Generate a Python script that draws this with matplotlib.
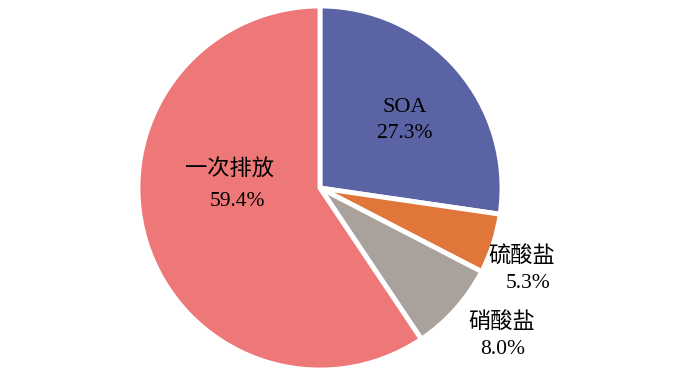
import matplotlib.pyplot as plt

plt.rcParams['font.family'] = ['Liberation Serif', 'Noto Sans CJK SC']

# 数据
labels = ["SOA", "硫酸盐", "硝酸盐", "一次排放"]
values = [27.3, 5.3, 8.0, 59.4]
colors = ["#5A63A3", "#E0763A", "#A9A19B", "#EE7777"]
explode = [0.01, 0.02, 0.03, 0.018]

# 标签位置 (像素坐标, y 从上往下)
label_pos = [(405, 108), (522, 257), (502, 322), (230, 170)]
pct_pos = [(405, 134), (528, 283), (503, 349), (237, 202)]

W, H = 700, 376
fig = plt.figure(figsize=(7, 3.76), dpi=100)
ax = fig.add_axes([0, 0, 1, 1])

ax.pie(values, colors=colors, startangle=90, counterclock=False,
       center=(320, H - 188), radius=182, explode=explode,
       wedgeprops=dict(edgecolor='white', linewidth=3.5), frame=True)
ax.set_xlim(0, W)
ax.set_ylim(0, H)
ax.set_aspect('equal')
ax.axis('off')

for lab, v, (lx, ly), (px, py) in zip(labels, values, label_pos, pct_pos):
    ax.text(lx, H - ly, lab, ha='center', va='center', fontsize=16, color='#000000')
    ax.text(px, H - py, f"{v:.1f}%", ha='center', va='center', fontsize=15.5, color='#000000')

fig.savefig("out.png", dpi=100)
